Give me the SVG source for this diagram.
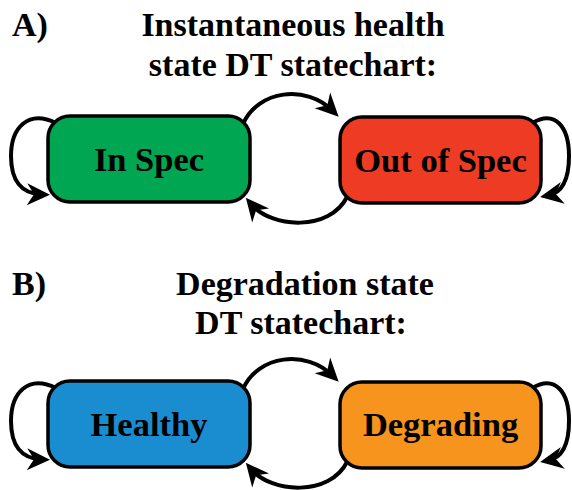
<svg xmlns="http://www.w3.org/2000/svg" width="572" height="490" viewBox="0 0 572 490">
  <style>
    .title { font-family: "Liberation Serif", "Times New Roman", serif; font-weight: bold; font-size: 34px; fill: #000; }
    .label { font-family: "Liberation Serif", "Times New Roman", serif; font-weight: bold; font-size: 34.5px; fill: #000; text-anchor: middle; }
    .state { stroke: #000; stroke-width: 3.5; }
    .edge { fill: none; stroke: #000; stroke-width: 4; marker-end: url(#arrow); }
  </style>
  <defs>
    <marker id="arrow" markerUnits="userSpaceOnUse" markerWidth="24" markerHeight="22" refX="15" refY="11" orient="auto" overflow="visible">
      <path d="M0,0 L23,11 L0,22 L7,11 Z" fill="#000"/>
    </marker>
  </defs>

  <!-- panel headings -->
  <g id="titles">
    <text class="title" x="12" y="36">A)</text>
    <text class="title" x="293" y="36" text-anchor="middle">Instantaneous health</text>
    <text class="title" x="293" y="76" text-anchor="middle">state DT statechart:</text>
    <text class="title" x="12" y="295">B)</text>
    <text class="title" x="305" y="295" text-anchor="middle">Degradation state</text>
    <text class="title" x="301" y="334" text-anchor="middle">DT statechart:</text>
  </g>

  <!-- transitions -->
  <g id="connectors">
    <!-- panel A -->
    <path class="edge" d="M56,123 C28,109 11,128 11,156 C11,180 21,194 42,194.5"/>
    <path class="edge" d="M243,124 C258,90 306,84 333,111"/>
    <path class="edge" d="M347,197 C330,231 272,229 251,204"/>
    <path class="edge" d="M532,123 C556,109 569,128 569,156 C569,180 562,193 548,195.5"/>
    <!-- panel B -->
    <path class="edge" d="M56,388 C28,374 11,393 11,421 C11,445 21,459 42,459.5"/>
    <path class="edge" d="M243,389 C258,355 306,349 333,376"/>
    <path class="edge" d="M347,462 C330,496 272,494 251,469"/>
    <path class="edge" d="M532,388 C556,374 569,393 569,421 C569,445 562,458 548,460.5"/>
  </g>

  <g id="in-spec">
    <rect class="state" x="48" y="116" width="202" height="86" rx="22" fill="#00A651"/>
    <text class="label" x="149" y="170.5">In Spec</text>
  </g>
  <g id="out-of-spec">
    <rect class="state" x="340" y="117" width="201" height="86" rx="22" fill="#EE3B24"/>
    <text class="label" x="440.5" y="171.5">Out of Spec</text>
  </g>
  <g id="healthy">
    <rect class="state" x="48" y="381" width="202" height="86" rx="22" fill="#1A8DD0"/>
    <text class="label" x="149" y="435.5">Healthy</text>
  </g>
  <g id="degrading">
    <rect class="state" x="340" y="382" width="201" height="86" rx="22" fill="#F7941D"/>
    <text class="label" x="440.5" y="436">Degrading</text>
  </g>
</svg>
